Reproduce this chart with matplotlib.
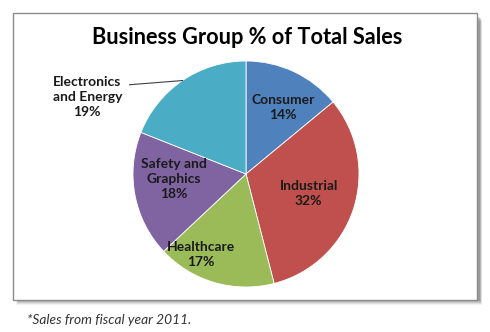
import matplotlib.pyplot as plt
import matplotlib.patches as mpatches
import numpy as np

# Business group share of total sales (%)
groups = ['Consumer', 'Industrial', 'Healthcare', 'Safety and\nGraphics', 'Electronics\nand Energy']
shares = [14, 32, 17, 18, 19]
colors = ['#4F81BD', '#C0504D', '#9BBB59', '#8064A2', '#4BACC6']

# label placement: (radius factor, angle shift in degrees), last one sits outside
label_pos = [(0.67, -4), (0.58, 1), (0.82, -13), (0.64, -7), (1.56, 30)]

plt.rcParams['font.family'] = ['Lato', 'DejaVu Sans']

W, H = 490, 332
fig = plt.figure(figsize=(W / 100, H / 100), dpi=100)

# chart frame with a soft drop shadow
bx0, by0, bx1, by1 = 13, 13, 477, 300
for i, a in enumerate([0.05, 0.07, 0.09, 0.11, 0.13]):
    off = 5 - i
    sh = mpatches.FancyBboxPatch(((bx0 + 3 + i * 0.5) / W, (H - by1 - off) / H),
                                 (bx1 - bx0 + off - 3) / W, (by1 - by0 - 3) / H,
                                 boxstyle='square,pad=0', transform=fig.transFigure,
                                 facecolor='#000000', edgecolor='none', alpha=a, zorder=-3)
    fig.patches.append(sh)
frame = mpatches.Rectangle((bx0 / W, (H - by1) / H), (bx1 - bx0) / W, (by1 - by0) / H,
                           transform=fig.transFigure, facecolor='white',
                           edgecolor='#8c8c8c', linewidth=1, zorder=-2)
fig.patches.append(frame)

# pie axes: centre at (246, 174) px, radius 113 px
cx, cy, r = 246, 174, 113
ax = fig.add_axes([(cx - r) / W, (H - cy - r) / H, 2 * r / W, 2 * r / H])
ax.patch.set_visible(False)
wedges, _ = ax.pie(shares, colors=colors, startangle=90, counterclock=False,
                   wedgeprops=dict(edgecolor='white', linewidth=0.6))
ax.set_xlim(-1, 1)
ax.set_ylim(-1, 1)
ax.set_aspect('equal')
ax.axis('off')

for w, name, val, (rf, shift) in zip(wedges, groups, shares, label_pos):
    mid = np.deg2rad((w.theta1 + w.theta2) / 2 + shift)
    tx, ty = rf * np.cos(mid), rf * np.sin(mid)
    ax.text(tx, ty, f'{name}\n{val}%', ha='center', va='center', fontsize=10,
            fontweight='bold', color='#1a1a1a', linespacing=1.3)

# leader line for the outside label
w = wedges[-1]
m = np.deg2rad((w.theta1 + w.theta2) / 2)
ex, ey = np.cos(m), np.sin(m)
ax.plot([ex, -1.03], [ey, 0.79], color='#404040', linewidth=0.8, clip_on=False)

fig.text(247 / W, 1 - 37 / H, 'Business Group % of Total Sales', ha='center', va='center',
         fontsize=15.7, fontweight='bold', color='black')
fig.text(27 / W, 1 - 320 / H, '*Sales from fiscal year 2011.', ha='left', va='center',
         fontsize=9.9, style='italic', color='#333333')

fig.savefig('out.png', dpi=100)
